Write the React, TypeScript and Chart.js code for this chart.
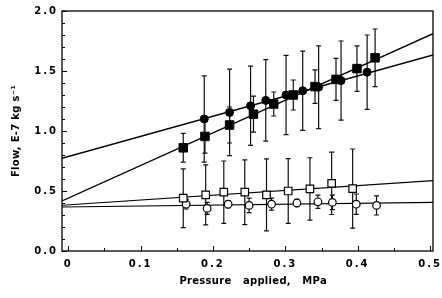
import React, { useEffect, useRef } from 'react';
import { Chart, registerables } from 'chart.js';
Chart.register(...registerables);

// Axis settings
const xMin = -0.0085;
const xMax = 0.504;
const yMin = 0;
const yMax = 2.0;
const xTickValues = [0, 0.1, 0.2, 0.3, 0.4, 0.5];
const xTickLabels = ['0', '0.1', '0.2', '0.3', '0.4', '0.5'];
const yTickValues = [0, 0.5, 1.0, 1.5, 2.0];
const yTickLabels = ['0.0', '0.5', '1.0', '1.5', '2.0'];

// Filled squares
const filledSqX = [0.159, 0.189, 0.223, 0.256, 0.284, 0.311, 0.341, 0.370, 0.399, 0.424];
const filledSqY = [0.86, 0.955, 1.05, 1.14, 1.225, 1.30, 1.37, 1.43, 1.52, 1.61];
const filledSqErr = [0.12, 0.14, 0.15, 0.15, 0.10, 0.125, 0.14, 0.175, 0.19, 0.24];

// Filled circles
const filledCirX = [0.188, 0.223, 0.252, 0.273, 0.301, 0.324, 0.346, 0.377, 0.413];
const filledCirY = [1.10, 1.155, 1.21, 1.255, 1.30, 1.335, 1.365, 1.42, 1.49];
const filledCirErr = [0.36, 0.36, 0.33, 0.34, 0.33, 0.33, 0.345, 0.33, 0.31];

// Open squares
const openSqX = [0.159, 0.19, 0.215, 0.244, 0.274, 0.304, 0.334, 0.364, 0.393];
const openSqY = [0.44, 0.467, 0.49, 0.49, 0.467, 0.50, 0.517, 0.564, 0.52];
const openSqErr = [0.245, 0.25, 0.26, 0.27, 0.30, 0.27, 0.26, 0.26, 0.33];

// Open circles
const openCirX = [0.163, 0.192, 0.221, 0.250, 0.281, 0.316, 0.345, 0.365, 0.398, 0.426];
const openCirY = [0.39, 0.355, 0.39, 0.38, 0.39, 0.40, 0.41, 0.405, 0.39, 0.38];
const openCirErr = [0.04, 0.05, 0.03, 0.06, 0.05, 0.03, 0.055, 0.06, 0.085, 0.08];

// Fitted lines (filled squares, filled circles, open squares, open circles)
const fitSlopes = [2.72, 1.68, 0.40, 0.075];
const fitIntercepts = [0.44, 0.787, 0.385, 0.367];

const toPts = (xs: number[], ys: number[]) => xs.map((x, i) => ({ x, y: ys[i] }));
const fitLine = (i: number) => [
  { x: xMin, y: fitIntercepts[i] + fitSlopes[i] * xMin },
  { x: xMax, y: fitIntercepts[i] + fitSlopes[i] * xMax },
];

const errorSeries = [
  { xs: filledSqX, ys: filledSqY, es: filledSqErr },
  { xs: filledCirX, ys: filledCirY, es: filledCirErr },
  { xs: openSqX, ys: openSqY, es: openSqErr },
  { xs: openCirX, ys: openCirY, es: openCirErr },
];

const yMinor: number[] = [];
for (let i = 0; i <= 20; i++) yMinor.push(i / 10);
const xMinor: number[] = [];
for (let i = 0; i <= 10; i++) xMinor.push(i / 20);

// titles drawn (z -1 layer) with narrow spacing, tick labels (z 1 layer) with wide spacing
const spacingPlugin = {
  id: 'spacing',
  beforeDraw(chart: any) {
    chart.ctx.letterSpacing = '0.3px';
  },
  beforeDatasetsDraw(chart: any) {
    chart.ctx.letterSpacing = '2px';
  },
  afterDraw(chart: any) {
    chart.ctx.letterSpacing = '0px';
  },
};

const errorBarPlugin = {
  id: 'errorBars',
  beforeDatasetsDraw(chart: any) {
    const { ctx, scales } = chart;
    ctx.save();
    ctx.strokeStyle = '#111';
    ctx.lineWidth = 1.2;
    const cap = 2.5;
    errorSeries.forEach((s) => {
      s.xs.forEach((x, i) => {
        const px = scales.x.getPixelForValue(x);
        const top = scales.y.getPixelForValue(s.ys[i] + s.es[i]);
        const bot = scales.y.getPixelForValue(s.ys[i] - s.es[i]);
        ctx.beginPath();
        ctx.moveTo(px, top);
        ctx.lineTo(px, bot);
        ctx.moveTo(px - cap, top);
        ctx.lineTo(px + cap, top);
        ctx.moveTo(px - cap, bot);
        ctx.lineTo(px + cap, bot);
        ctx.stroke();
      });
    });
    ctx.restore();
  },
};

const framePlugin = {
  id: 'frame',
  afterDraw(chart: any) {
    const { ctx, chartArea: a, scales } = chart;
    ctx.save();
    ctx.strokeStyle = '#000';
    ctx.lineWidth = 1.3;
    ctx.strokeRect(a.left, a.top, a.right - a.left, a.bottom - a.top);
    ctx.lineWidth = 1;
    ctx.beginPath();
    yMinor.forEach((v) => {
      const y = Math.round(scales.y.getPixelForValue(v)) + 0.5;
      const major = yTickValues.some((t) => Math.abs(t - v) < 1e-6);
      const len = major ? 5 : 3;
      ctx.moveTo(a.left, y);
      ctx.lineTo(a.left + len, y);
    });
    xMinor.forEach((v) => {
      const x = Math.round(scales.x.getPixelForValue(v)) + 0.5;
      const major = xTickValues.some((t) => Math.abs(t - v) < 1e-6);
      const len = major ? 5 : 3;
      ctx.moveTo(x, a.bottom);
      ctx.lineTo(x, a.bottom - len);
    });
    ctx.stroke();
    ctx.restore();
  },
};

export default function App() {
  const ref = useRef<HTMLCanvasElement>(null);
  useEffect(() => {
    document.body.style.margin = '0';
    const tickFont = { family: 'DejaVu Sans', size: 10, weight: 'bold' as const };
    const titleFont = { family: 'DejaVu Sans', size: 10, weight: 'bold' as const };
    const chart = new Chart(ref.current!, {
      type: 'scatter',
      data: {
        datasets: [
          {
            label: 'filled squares',
            data: toPts(filledSqX, filledSqY),
            pointStyle: 'rect',
            pointRadius: 6,
            backgroundColor: '#000',
            borderColor: '#000',
            borderWidth: 1,
          },
          {
            label: 'filled circles',
            data: toPts(filledCirX, filledCirY),
            pointStyle: 'circle',
            pointRadius: 4,
            backgroundColor: '#000',
            borderColor: '#000',
            borderWidth: 1,
          },
          {
            label: 'open squares',
            data: toPts(openSqX, openSqY),
            pointStyle: 'rect',
            pointRadius: 5.3,
            backgroundColor: '#fff',
            borderColor: '#000',
            borderWidth: 1.2,
          },
          {
            label: 'open circles',
            data: toPts(openCirX, openCirY),
            pointStyle: 'circle',
            pointRadius: 3.8,
            backgroundColor: '#fff',
            borderColor: '#000',
            borderWidth: 1.2,
          },
          ...[0, 1, 2, 3].map((i) => ({
            label: 'fit ' + i,
            data: fitLine(i),
            showLine: true,
            pointRadius: 0,
            borderColor: '#000',
            borderWidth: i < 2 ? 1.4 : 1.1,
            backgroundColor: '#000',
          })),
        ],
      },
      options: {
        responsive: false,
        animation: false,
        layout: { padding: { top: 11, right: 9, left: 0, bottom: 0 } },
        plugins: { legend: { display: false }, tooltip: { enabled: false } },
        scales: {
          x: {
            type: 'linear',
            min: xMin,
            max: xMax,
            afterBuildTicks: (s: any) => {
              s.ticks = xTickValues.map((v) => ({ value: v }));
            },
            afterFit: (s: any) => {
              s.height = 47;
              s.paddingLeft = 0;
              s.paddingRight = 0;
            },
            grid: { display: false, drawTicks: false },
            border: { display: false },
            ticks: {
              z: 1,
              color: '#000',
              font: tickFont,
              padding: 7,
              maxRotation: 0,
              autoSkip: false,
              callback: (v: any) => {
                const idx = xTickValues.findIndex((t) => Math.abs(t - v) < 1e-6);
                return idx >= 0 ? xTickLabels[idx] : '';
              },
            },
            title: {
              display: true,
              text: '   Pressure   applied,   MPa',
              color: '#000',
              font: titleFont,
              padding: { top: 0, bottom: 11 },
            },
          },
          y: {
            type: 'linear',
            min: yMin,
            max: yMax,
            afterBuildTicks: (s: any) => {
              s.ticks = yTickValues.map((v) => ({ value: v }));
            },
            afterFit: (s: any) => {
              s.width = 62;
              s.paddingTop = 0;
              s.paddingBottom = 0;
            },
            grid: { display: false, drawTicks: false },
            border: { display: false },
            ticks: {
              z: 1,
              color: '#000',
              font: tickFont,
              padding: 4,
              autoSkip: false,
              callback: (v: any) => {
                const idx = yTickValues.findIndex((t) => Math.abs(t - v) < 1e-6);
                return idx >= 0 ? yTickLabels[idx] : '';
              },
            },
            title: {
              display: true,
              text: 'Flow, E-7 kg s⁻¹',
              color: '#000',
              font: titleFont,
              padding: { top: 10, bottom: 0 },
            },
          },
        },
      },
      plugins: [spacingPlugin, errorBarPlugin, framePlugin],
    });
    return () => chart.destroy();
  }, []);
  return (
    <div style={{ width: 442, height: 298 }}>
      <canvas ref={ref} width={442} height={298} style={{ display: 'block' }} />
    </div>
  );
}
